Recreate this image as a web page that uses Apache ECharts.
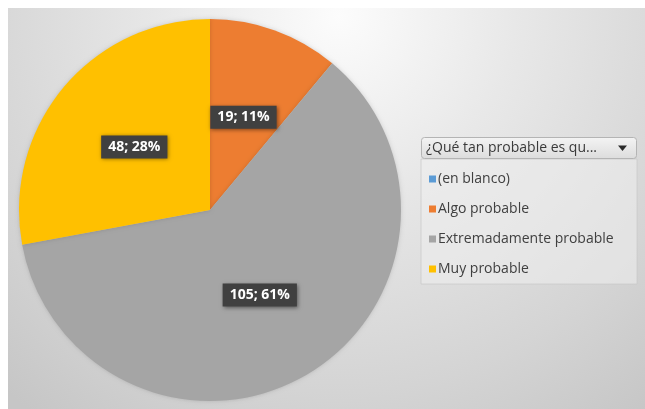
<!DOCTYPE html>
<html>
<head>
<meta charset="utf-8">
<script src="https://cdn.jsdelivr.net/npm/echarts@6/dist/echarts.min.js"></script>
<style>
  html, body { margin: 0; padding: 0; background: #ffffff; }
  #chart { width: 645px; height: 409px; }
</style>
</head>
<body>
<div id="chart"></div>
<script>
// Survey answers: "¿Qué tan probable es que...?"
const categories = ['(en blanco)', 'Algo probable', 'Extremadamente probable', 'Muy probable'];
const counts = [0, 19, 105, 48];
const sliceColors = ['#5B9BD5', '#ED7D31', '#A5A5A5', '#FFC000'];
const fieldButtonText = '¿Qué tan probable es qu...';

const total = counts.reduce((a, b) => a + b, 0);

const pieData = categories.map((name, i) => ({
  name: name,
  value: counts[i],
  itemStyle: { color: sliceColors[i] },
  label: { show: counts[i] > 0 }
}));

const chart = echarts.init(document.getElementById('chart'), null, { renderer: 'canvas' });

chart.setOption({
  animation: false,
  color: sliceColors,
  graphic: [
    // chart area with soft radial shading
    {
      type: 'rect', z: -10, silent: true,
      shape: { x: 8, y: 8, width: 637, height: 401 },
      style: {
        fill: new echarts.graphic.RadialGradient(0.52, 0.02, 1.25, [
          { offset: 0, color: '#fcfcfc' },
          { offset: 0.35, color: '#e8e8e8' },
          { offset: 0.75, color: '#d4d4d4' },
          { offset: 1, color: '#c6c6c6' }
        ])
      }
    },
    // legend panel
    {
      type: 'rect', z: -5, silent: true,
      shape: { x: 421, y: 159, width: 216, height: 125 },
      style: { fill: 'rgba(238,238,238,0.55)', stroke: 'rgba(200,200,200,0.7)', lineWidth: 1 }
    },
    // pivot field button
    {
      type: 'rect', z: 5, silent: true,
      shape: { x: 421.5, y: 137.5, width: 215, height: 21, r: 3 },
      style: {
        fill: new echarts.graphic.LinearGradient(0, 0, 0, 1, [
          { offset: 0, color: '#f4f4f4' },
          { offset: 1, color: '#dcdcdc' }
        ]),
        stroke: '#b4b4b4', lineWidth: 1
      }
    },
    {
      type: 'text', z: 6, silent: true,
      x: 426, y: 148.5,
      style: {
        text: fieldButtonText,
        fill: '#3a3a3a',
        font: '14px "Open Sans", sans-serif',
        textVerticalAlign: 'middle'
      }
    },
    {
      type: 'polygon', z: 6, silent: true,
      shape: { points: [[618, 145.5], [627, 145.5], [622.5, 151]] },
      style: { fill: '#2a2a2a' }
    }
  ],
  legend: {
    orient: 'vertical',
    left: 424,
    top: 167,
    itemWidth: 7,
    itemHeight: 7,
    itemGap: 16,
    icon: 'rect',
    selectedMode: false,
    data: categories,
    textStyle: {
      color: '#404040',
      fontSize: 14,
      fontFamily: '"Open Sans", sans-serif',
      lineHeight: 14,
      padding: [0, 0, 0, -3]
    }
  },
  series: [{
    type: 'pie',
    center: [210, 210],
    radius: [0, 191],
    startAngle: 90,
    clockwise: true,
    data: pieData,
    itemStyle: {
      shadowBlur: 4,
      shadowColor: 'rgba(0,0,0,0.15)'
    },
    label: {
      position: 'inside',
      formatter: p => p.value + '; ' + Math.round(p.value / total * 100) + '%',
      color: '#ffffff',
      fontSize: 14,
      fontWeight: 'bold',
      fontFamily: '"Open Sans", sans-serif',
      backgroundColor: '#404040',
      padding: [5, 7, 4, 7],
      shadowBlur: 4,
      shadowColor: 'rgba(0,0,0,0.45)',
      shadowOffsetX: 1,
      shadowOffsetY: 1
    },
    labelLine: { show: false },
    emphasis: { disabled: true }
  }]
});
</script>
</body>
</html>
